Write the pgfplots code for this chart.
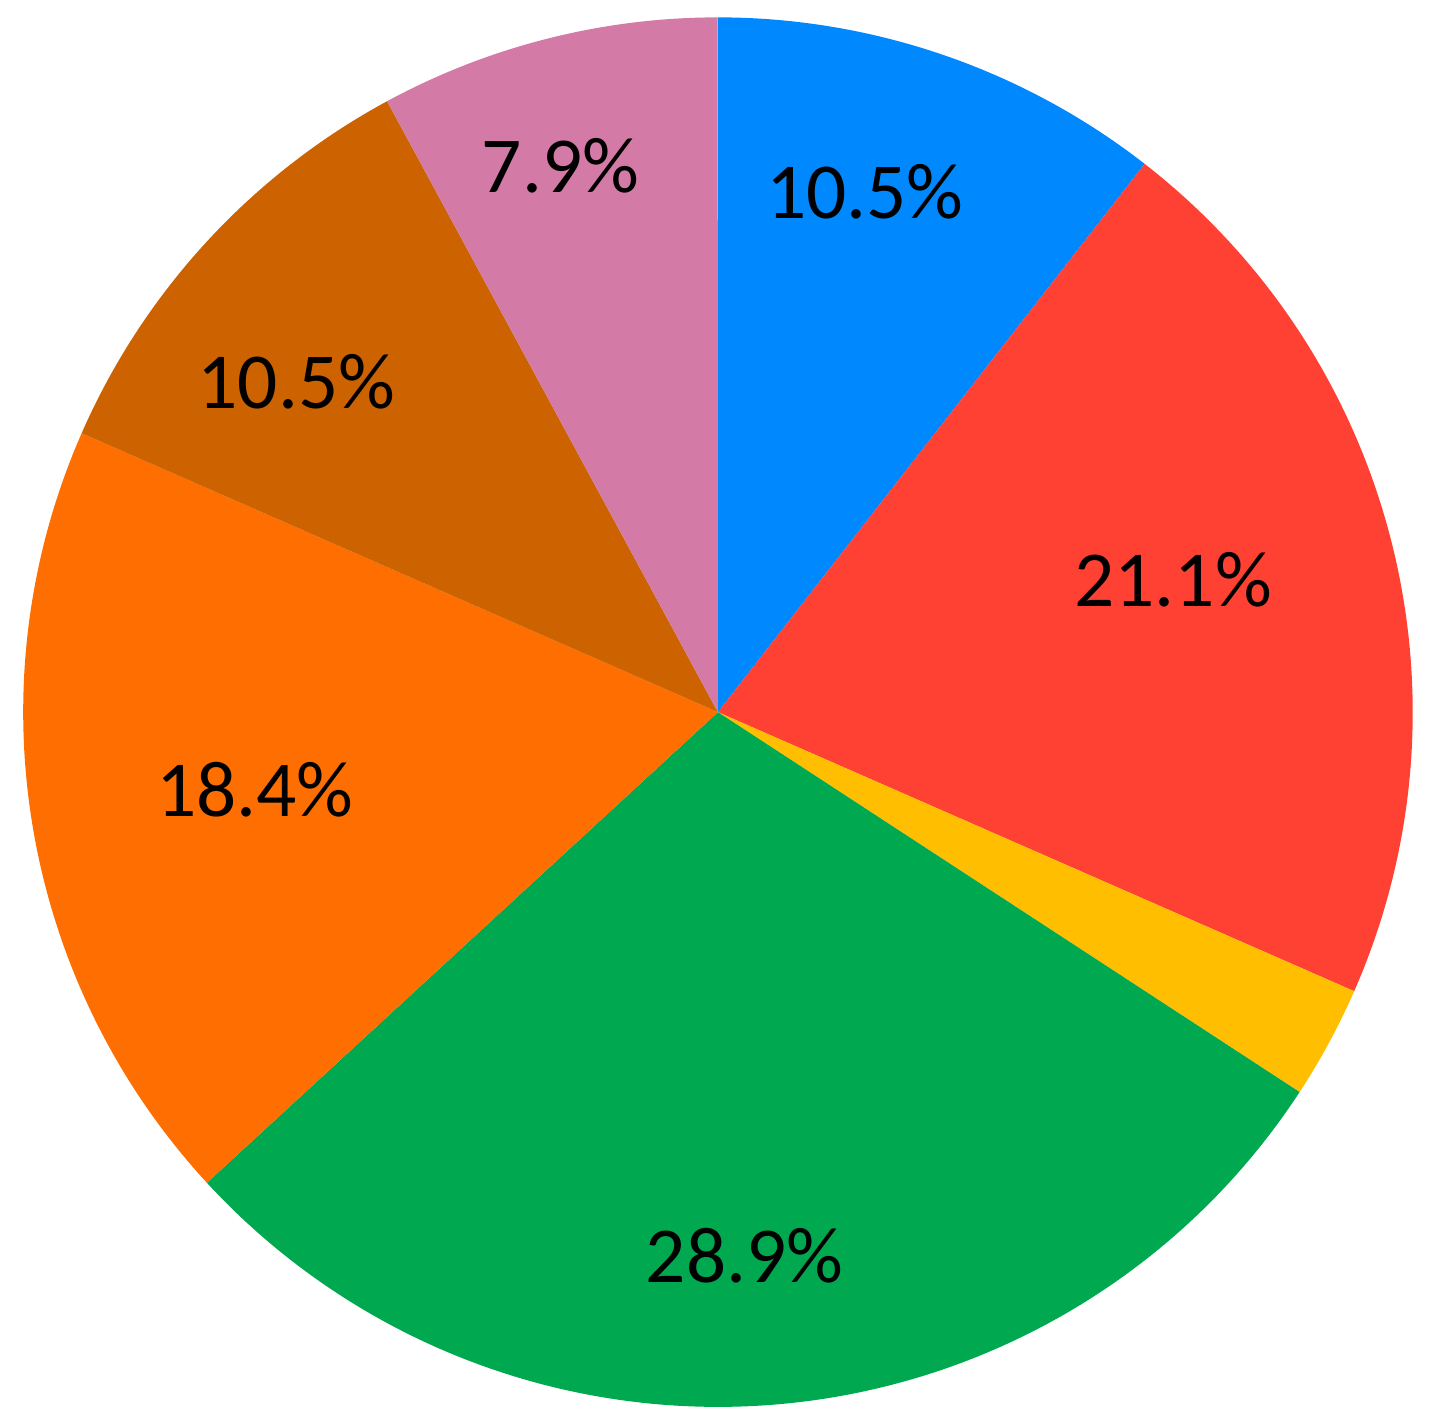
\documentclass[border=0pt]{standalone}
\usepackage{pgfplots}
\usepackage{pgfplotstable}
\usepackage{fontspec}
\setmainfont{Carlito}
\pgfplotsset{compat=1.18}

\definecolor{pblue}{RGB}{0,136,255}
\definecolor{pred}{RGB}{255,65,52}
\definecolor{pyellow}{RGB}{255,191,0}
\definecolor{pgreen}{RGB}{0,168,80}
\definecolor{porange}{RGB}{255,110,0}
\definecolor{pbrown}{RGB}{204,98,0}
\definecolor{ppink}{RGB}{212,122,166}

% counts per slice, clockwise from 12 o'clock (total 38)
\pgfplotstableread{
count colour
4  pblue
8  pred
1  pyellow
11 pgreen
7  porange
4  pbrown
3  ppink
}\piedata

% label positions
\pgfplotstableread{
x     y     label
1.27  4.49  10.5\%
3.93  1.14  21.1\%
0.23  -4.69 28.9\%
-4.00 -0.67 18.4\%
-3.64 2.85  10.5\%
-1.36 4.72  7.9\%
}\labeldata

\begin{document}
\begin{tikzpicture}
\begin{axis}[
    x=1cm, y=1cm,
    xmin=-6.20, xmax=6.21,
    ymin=-6.18, ymax=6.15,
    hide axis,
    clip=false,
]
\coordinate (bl) at (axis cs:-6.20,-6.18);
\coordinate (tr) at (axis cs:6.21,6.15);
\def\startangle{90}
\pgfplotsforeachungrouped \i in {0,...,6}{%
    \pgfplotstablegetelem{\i}{count}\of\piedata
    \let\cnt\pgfplotsretval
    \pgfplotstablegetelem{\i}{colour}\of\piedata
    \let\col\pgfplotsretval
    \pgfmathsetmacro\endangle{\startangle-\cnt/38*360}%
    \edef\slice{\noexpand\fill[\col] (axis cs:0,0) -- (axis cs:{6*cos(\startangle)},{6*sin(\startangle)})
        arc[start angle=\startangle, end angle=\endangle, radius=6] -- cycle;}%
    \slice
    \global\let\startangle\endangle
}
\addplot[only marks, mark=none,
    nodes near coords,
    point meta=explicit symbolic,
    every node near coord/.style={anchor=center, font=\fontsize{19.5}{22}\selectfont, text=black}]
    table[x=x, y=y, meta=label] {\labeldata};
\end{axis}
\pgfresetboundingbox
\path[use as bounding box] (bl) rectangle (tr);
\end{tikzpicture}
\end{document}
